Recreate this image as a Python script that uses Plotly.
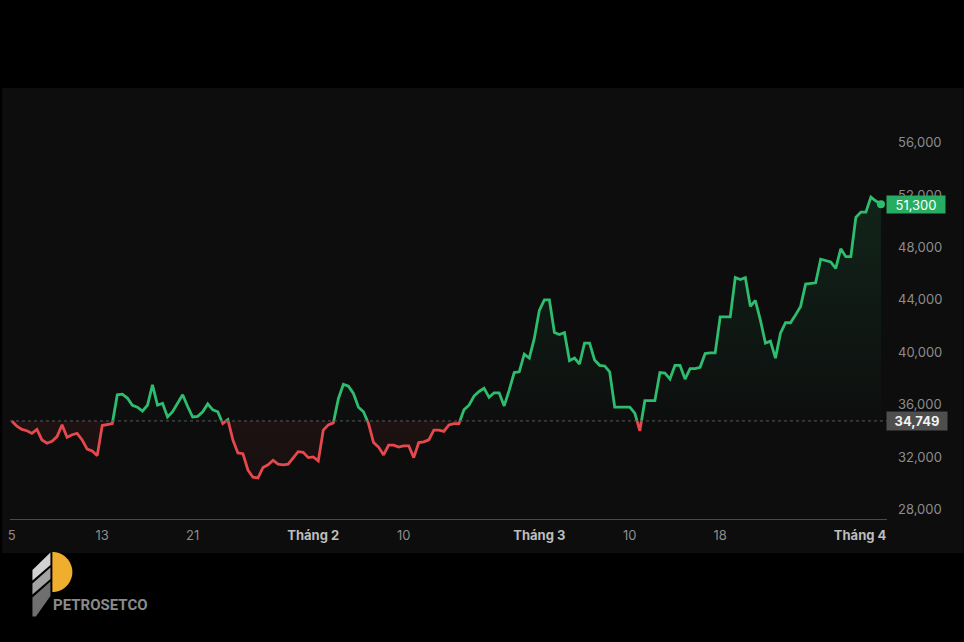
import numpy as np
import plotly.graph_objects as go

# ---------------- data ----------------
baseline_price = 34749
last_price = 51300

jan_prices = [34749, 34350, 34100, 34000, 33800, 34100, 33300, 33050, 33200, 33550,
              34450, 33500, 33700, 33800, 33300, 32600, 32450, 32100, 34400, 34450,
              34550, 36750, 36800, 36500, 35950, 35800, 35500, 35950, 37500, 35950,
              36100, 35050, 35450, 36150, 36750, 35850, 35050, 35100, 35450, 36050,
              35600, 35450, 34550, 34850, 33300, 32300, 32250, 31000, 30450, 30400,
              31200, 31400, 31750, 31450, 31400, 31450, 31900, 32400, 32350, 31950]
feb_prices = [32000, 31700, 34050, 34450, 34600, 36450, 37550, 37400, 36850, 35800,
              35450, 34550, 33100, 32750, 32150, 32900, 32900, 32750, 32850, 32850,
              31950, 33100, 33150, 33300, 34050, 34050, 33950, 34450, 34550, 34550,
              35600, 35950, 36650, 37000, 37250, 36550, 36900, 36900, 35900, 37100,
              38450, 38500, 39850, 39550, 41050]
mar_prices = [43200, 44000, 44000, 41500, 41350, 41500, 39350, 39550, 39100, 40700,
              40700, 39400, 39000, 38950, 38500, 35800, 35800, 35800, 35800, 35350,
              34000, 36300, 36300, 36300, 38450, 38400, 37950, 39000, 39000, 37950,
              38750, 38750, 38850, 39900, 39950, 39950, 42700, 42700, 42700, 45700,
              45550, 45700, 43500, 43950, 42450, 40700, 40850, 39550, 41450, 42250,
              42250, 42850, 43500, 45200, 45250, 45300, 47100, 47000, 46900, 46400,
              47900, 47300, 47300, 50300, 50700, 50700]
apr_prices = [51850, 51550, 51300]

points_per_day = 3
tick_days = [0, 6, 12, 20, 26, 35, 41, 47, 57]
tick_labels = ["5", "13", "21", "Tháng 2", "10", "Tháng 3", "10", "18", "Tháng 4"]
month_labels = {"Tháng 2", "Tháng 3", "Tháng 4"}
y_ticks = [28000, 32000, 36000, 40000, 44000, 48000, 52000, 56000]

# ---------------- style ----------------
GREEN = "#2ebd6e"
GREEN_BOX = "#27ad62"
RED = "#e5484d"
PANEL = "#0d0d0d"
AXIS_TXT = "#8c8c8c"
MONTH_TXT = "#bdbdbd"
FONT = "Inter, Roboto, sans-serif"

W, H = 964, 642
ML, MR, MT, MB = 8, 77, 88, 123
PW, PH = W - ML - MR, H - MT - MB

prices = jan_prices + feb_prices + mar_prices + apr_prices
n = len(prices)
base = baseline_price

# split into above / below baseline, adding the crossing points for colouring
xs, ys = [], []
for k in range(n):
    if k > 0:
        y0, y1 = prices[k - 1], prices[k]
        if (y0 - base) * (y1 - base) < 0:
            t = (base - y0) / (y1 - y0)
            xs.append(k - 1 + t)
            ys.append(base)
    xs.append(k)
    ys.append(prices[k])
ys = np.array(ys, dtype=float)
up_fill = np.maximum(ys, base)
dn_fill = np.minimum(ys, base)
up_line = [v if v >= base else None for v in ys]
dn_line = [v if v <= base else None for v in ys]

x_min, x_max = -0.36, n + 0.2
y_min, y_max = 27260, 60180

# tick positions (edge clamp for the right-most label)
tickvals = [d * points_per_day for d in tick_days]
px_per_x = PW / (x_max - x_min)
half_label_px = 27
tickvals[-1] = min(tickvals[-1], x_max - half_label_px / px_per_x)
ticktext = []
for lab in tick_labels:
    if lab in month_labels:
        ticktext.append(f'<span style="color:{MONTH_TXT}"><b>{lab}</b></span>')
    else:
        ticktext.append(lab)

fig = go.Figure()
fig.add_trace(go.Scatter(x=xs, y=[base] * len(xs), mode="lines",
                         line=dict(width=0), hoverinfo="skip", showlegend=False))
fig.add_trace(go.Scatter(x=xs, y=up_fill, mode="lines", line=dict(width=0),
                         fill="tonexty",
                         fillgradient=dict(type="vertical",
                                           colorscale=[[0, "rgba(46,189,110,0.01)"],
                                                       [1, "rgba(46,189,110,0.16)"]],
                                           start=base, stop=56000),
                         hoverinfo="skip", showlegend=False))
fig.add_trace(go.Scatter(x=xs, y=[base] * len(xs), mode="lines",
                         line=dict(width=0), hoverinfo="skip", showlegend=False))
fig.add_trace(go.Scatter(x=xs, y=dn_fill, mode="lines", line=dict(width=0),
                         fill="tonexty",
                         fillgradient=dict(type="vertical",
                                           colorscale=[[0, "rgba(229,72,77,0.03)"],
                                                       [1, "rgba(229,72,77,0.08)"]],
                                           start=29000, stop=base),
                         hoverinfo="skip", showlegend=False))
fig.add_trace(go.Scatter(x=xs, y=up_line, mode="lines",
                         line=dict(color=GREEN, width=2.8), connectgaps=False,
                         showlegend=False))
fig.add_trace(go.Scatter(x=xs, y=dn_line, mode="lines",
                         line=dict(color=RED, width=2.8), connectgaps=False,
                         showlegend=False))
fig.add_trace(go.Scatter(x=[n - 1], y=[prices[-1]], mode="markers",
                         marker=dict(color=GREEN, size=8), showlegend=False))


def px_x(p):
    return (p - ML) / PW


def px_y(p):
    return (H - MB - p) / PH


shapes = []
# chart panel background
shapes.append(dict(type="rect", xref="paper", yref="paper", layer="below",
                   x0=px_x(0), x1=px_x(W), y0=px_y(553), y1=px_y(88),
                   fillcolor=PANEL, line=dict(width=0)))
# baseline dashed line
shapes.append(dict(type="line", xref="paper", yref="y", x0=0, x1=1,
                   y0=base, y1=base, line=dict(color="#5a5a5a", width=1, dash="dot")))


def poly(points, color):
    path = "M " + " L ".join(f"{px_x(a):.5f},{px_y(b):.5f}" for a, b in points) + " Z"
    return dict(type="path", xref="paper", yref="paper", path=path,
                fillcolor=color, line=dict(width=0), layer="above")


# logo: yellow half disc
cx, cy, r = 50.5, 572, 20
ang = np.linspace(-np.pi / 2, np.pi / 2, 40)
dpts = [(cx + r * np.cos(a), cy - r * np.sin(a)) for a in ang]
shapes.append(poly(dpts, "#f0ae2e"))
# logo: grey bands
shapes.append(poly([(30.5, 570), (48.5, 552.5), (48.5, 565), (30.5, 580.5)], "#d2d2d2"))
shapes.append(poly([(30.5, 583.5), (48.5, 567.5), (48.5, 579), (30.5, 594.5)], "#a3a3a3"))
shapes.append(poly([(30.5, 597.5), (48.5, 581.5), (48.5, 596), (34, 616.5), (30.5, 616.5)], "#6f6f6f"))

annotations = [
    dict(xref="paper", yref="y", x=1, y=last_price, xanchor="left", yanchor="middle",
         text=f"{last_price:,}", showarrow=False, bgcolor=GREEN_BOX, width=58, height=17,
         borderpad=0, xshift=-1,
         font=dict(family=FONT, size=13, color="#ffffff")),
    dict(xref="paper", yref="y", x=1, y=base, xanchor="left", yanchor="middle",
         text=f"<b>{base:,}</b>", showarrow=False, bgcolor="#4e4e4e", width=60, height=18,
         borderpad=0, xshift=-1,
         font=dict(family=FONT, size=13, color="#f2f2f2")),
    dict(xref="paper", yref="paper", x=px_x(49), y=px_y(604.5), xanchor="left",
         yanchor="middle", text="<b>PETROSETCO</b>", showarrow=False,
         font=dict(family="Roboto, sans-serif", size=15, color="#8a8a8a")),
]

fig.update_layout(
    width=W, height=H,
    margin=dict(l=ML, r=MR, t=MT, b=MB, pad=0),
    paper_bgcolor="#000000",
    plot_bgcolor=PANEL,
    font=dict(family=FONT, size=13, color=AXIS_TXT),
    shapes=shapes,
    annotations=annotations,
    hovermode=False,
    xaxis=dict(range=[x_min, x_max], tickvals=tickvals, ticktext=ticktext,
               showgrid=False, zeroline=False, showline=True, linecolor="#4a4a4a",
               linewidth=1, ticks="", ticklabelstandoff=4,
               tickfont=dict(family=FONT, size=13, color=AXIS_TXT)),
    yaxis=dict(range=[y_min, y_max], side="right", tickvals=y_ticks, tickformat=",d",
               showgrid=False, zeroline=False, showline=False, ticks="",
               ticklabelstandoff=10,
               tickfont=dict(family=FONT, size=13, color=AXIS_TXT)),
)

fig.write_html(
    "out.html",
    config={"displayModeBar": False},
    post_script="document.body.style.margin='0';document.body.style.background='#000';"
                "document.body.style.overflow='hidden';",
)
